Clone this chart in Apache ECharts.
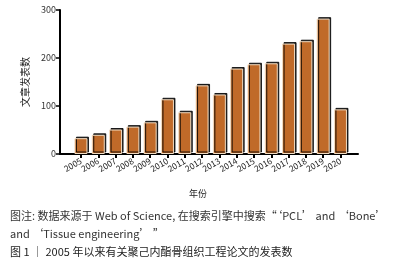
<!DOCTYPE html>
<html>
<head>
<meta charset="utf-8">
<script src="https://cdn.jsdelivr.net/npm/echarts@6/dist/echarts.min.js"></script>
<style>
  html, body { margin: 0; padding: 0; background: #fff; }
  #main { width: 412px; height: 268px; }
</style>
</head>
<body>
<div id="main"></div>
<script>
// 年份 & 发表数
var years = ['2005', '2006', '2007', '2008', '2009', '2010', '2011', '2012',
             '2013', '2014', '2015', '2016', '2017', '2018', '2019', '2020'];
var papers = [33, 40, 51, 57, 66, 114, 87, 143, 124, 178, 187, 189, 230, 235, 282, 93];
var yTicks = [0, 100, 200, 300];

var captionNote = '图注: 数据来源于 Web of Science, 在搜索引擎中搜索“‘PCL’ and ‘Bone’';
var captionNote2 = 'and ‘Tissue engineering’ ”';
var captionTitle = '图 1 ｜ 2005 年以来有关聚己内酯骨组织工程论文的发表数';

var font = '"Noto Sans CJK SC", "Noto Sans", sans-serif';
var myChart = echarts.init(document.getElementById('main'));

var option = {
  animation: false,
  textStyle: { fontFamily: font },
  title: [
    { text: '年份', left: 184, top: 184, textStyle: { fontSize: 9, fontWeight: 'normal', color: '#222', fontFamily: font } },
    { text: captionNote, left: 5, top: 205, textStyle: { fontSize: 11, fontWeight: 'normal', color: '#333', fontFamily: font } },
    { text: captionNote2, left: 5, top: 223, textStyle: { fontSize: 11, fontWeight: 'normal', color: '#333', fontFamily: font } },
    { text: captionTitle, left: 5, top: 241, textStyle: { fontSize: 11, fontWeight: 'normal', color: '#222', fontFamily: font } }
  ],
  grid: [
    { left: 72.3, right: 62.9, top: 10, bottom: 114 },
    { left: 60, right: 54, top: 10, bottom: 114 }
  ],
  xAxis: [
    {
      type: 'category', gridIndex: 0, data: years,
      axisLine: { show: false },
      axisTick: { show: true, alignWithLabel: true, length: 4, lineStyle: { color: '#000', width: 2 } },
      axisLabel: { rotate: 30, fontSize: 8.5, color: '#222', margin: 6, interval: 0 }
    },
    {
      type: 'value', gridIndex: 1, min: 0, max: 1,
      axisLine: { show: true, lineStyle: { color: '#000', width: 2 } },
      axisTick: { show: false }, axisLabel: { show: false }, splitLine: { show: false }
    }
  ],
  yAxis: [
    { type: 'value', gridIndex: 0, min: 0, max: 300, show: false },
    {
      type: 'value', gridIndex: 1, min: yTicks[0], max: yTicks[yTicks.length - 1], interval: 100,
      name: '文章发表数', nameLocation: 'middle', nameRotate: 90, nameGap: 27,
      nameTextStyle: { fontSize: 10, color: '#222' },
      axisLine: { show: true, lineStyle: { color: '#000', width: 2 } },
      axisTick: { show: true, length: 4, lineStyle: { color: '#000', width: 1.5 } },
      axisLabel: { fontSize: 9, color: '#333', margin: 4 },
      splitLine: { show: false }
    }
  ],
  series: [
    {
      type: 'bar', xAxisIndex: 0, yAxisIndex: 0, data: papers,
      barWidth: 13,
      itemStyle: {
        color: '#C06A29',
        borderColor: '#f2dcc2', borderWidth: 1,
        shadowColor: 'rgba(0,0,0,0.85)', shadowBlur: 0, shadowOffsetX: 1.5, shadowOffsetY: -1.5
      }
    }
  ]
};
myChart.setOption(option);
</script>
</body>
</html>
